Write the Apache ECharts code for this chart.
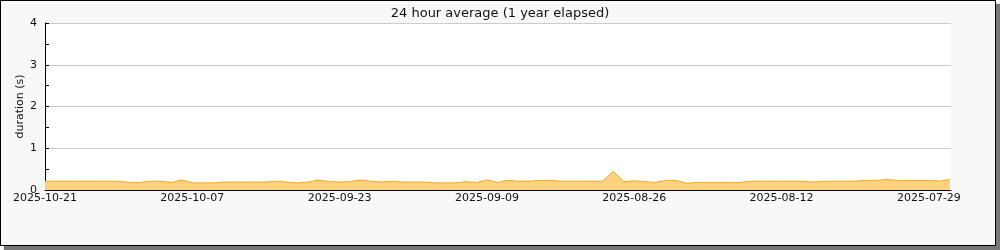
<!DOCTYPE html>
<html>
<head>
<meta charset="utf-8">
<script src="https://cdn.jsdelivr.net/npm/echarts@6/dist/echarts.min.js"></script>
<style>
html,body{margin:0;padding:0;background:#fff;width:1000px;height:250px;overflow:hidden;}
#frame{position:absolute;left:0;top:0;width:996px;height:246px;box-sizing:border-box;border:1px solid #000;background:#f8f8f8;box-shadow:4px 4px 1px #777;}
#chart{position:absolute;left:0;top:0;width:1000px;height:250px;}
</style>
</head>
<body>
<div id="frame"></div>
<div id="chart"></div>
<script>
// Day offsets before 2025-10-21 (0 = 2025-10-21, 86 = 2025-07-27)
const startDate = '2025-10-21';
const dayOffsets = [0,1,2,3,4,5,6,7,8,9,10,11,12,13,14,15,16,17,18,19,20,21,22,23,24,25,26,27,28,29,30,31,32,33,34,35,36,37,38,39,40,41,42,43,44,45,46,47,48,49,50,51,52,53,54,55,56,57,58,59,60,61,62,63,64,65,66,67,68,69,70,71,72,73,74,75,76,77,78,79,80,81,82,83,84,85,86];
const durations = [0.21,0.21,0.21,0.21,0.21,0.21,0.21,0.21,0.18,0.18,0.21,0.21,0.18,0.24,0.17,0.17,0.17,0.19,0.19,0.19,0.19,0.19,0.21,0.19,0.17,0.19,0.24,0.20,0.19,0.20,0.24,0.21,0.19,0.21,0.19,0.19,0.19,0.17,0.17,0.17,0.20,0.18,0.24,0.18,0.23,0.21,0.21,0.23,0.23,0.21,0.21,0.21,0.21,0.21,0.45,0.20,0.22,0.20,0.18,0.23,0.23,0.16,0.18,0.18,0.18,0.18,0.18,0.21,0.21,0.21,0.21,0.21,0.21,0.19,0.21,0.21,0.21,0.21,0.23,0.23,0.25,0.23,0.23,0.23,0.23,0.21,0.25];
const xTickDays = [0,7,14,21,28,35,42,49,56,63,70,77,84];
const xLabelDays = [0,14,28,42,56,70,84];
const yTicks = [0,1,2,3,4];
const titleText = '24 hour average (1 year elapsed)';
const yName = 'duration (s)';

function dayLabel(d){
  const t = new Date(startDate + 'T00:00:00Z');
  t.setUTCDate(t.getUTCDate() - Math.round(d));
  return t.toISOString().slice(0,10);
}

const chart = echarts.init(document.getElementById('chart'), null, {renderer:'canvas'});
const font = 'DejaVu Sans';
chart.setOption({
  animation:false,
  backgroundColor:'transparent',
  title:{text:titleText,left:'center',top:2,textStyle:{fontFamily:font,fontSize:13,fontWeight:'normal',color:'#111'}},
  grid:{left:45,right:49,top:23,bottom:60,show:true,backgroundColor:'#fff',borderWidth:0},
  xAxis:{
    type:'value',min:0,max:86.1,interval:7,
    axisLine:{show:true,onZero:false,lineStyle:{color:'#000',width:1}},
    axisTick:{show:true,inside:true,length:5,lineStyle:{color:'#000'},customValues:xTickDays},
    axisLabel:{show:true,margin:3,fontFamily:font,fontSize:11,color:'#111',customValues:xLabelDays,formatter:v=>dayLabel(v),showMinLabel:true,showMaxLabel:true},
    splitLine:{show:false}
  },
  yAxis:{
    type:'value',min:0,max:4,interval:1,
    name:yName,nameLocation:'middle',nameGap:19,nameRotate:90,nameMoveOverlap:false,
    nameTextStyle:{fontFamily:font,fontSize:11,color:'#111'},
    axisLine:{show:true,lineStyle:{color:'#000',width:1}},
    axisTick:{show:true,inside:true,length:4,lineStyle:{color:'#000'}},
    minorTick:{show:true,splitNumber:2,length:4,lineStyle:{color:'#000'}},
    axisLabel:{margin:8,fontFamily:font,fontSize:11,color:'#111'},
    splitLine:{show:true,lineStyle:{color:'#ccc',width:1}}
  },
  series:[{
    type:'line',
    data:dayOffsets.map((d,i)=>[d,durations[i]]),
    showSymbol:false,
    lineStyle:{color:'#f5a623',width:1},
    areaStyle:{color:'#ffd27f',opacity:1},
    z:3
  }]
});
</script>
</body>
</html>
